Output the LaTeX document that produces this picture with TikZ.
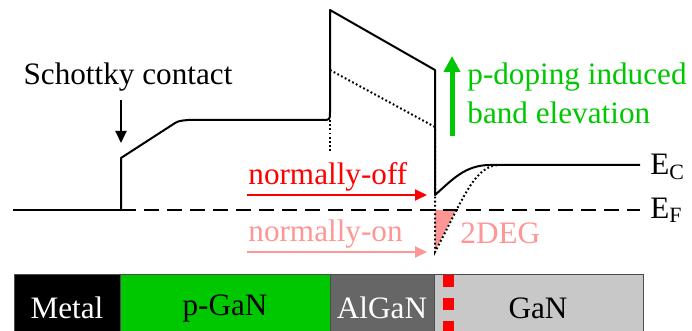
\documentclass[tikz,border=0pt]{standalone}
\usepackage{fontspec}
\setmainfont{Liberation Serif}
\usetikzlibrary{arrows.meta}
\definecolor{pgreen}{RGB}{0,200,0}
\definecolor{offred}{RGB}{255,0,0}
\definecolor{onpink}{RGB}{255,150,150}
\definecolor{algan}{RGB}{102,102,102}
\definecolor{gan}{RGB}{200,200,200}
\tikzset{
  band/.style={line width=1pt, line join=round},
  dotband/.style={line width=1pt, dash pattern=on 0.9pt off 1.2pt},
  fermi/.style={line width=1pt, dash pattern=on 7.5pt off 4pt},
  lbl/.style={font=\fontsize{15.6}{18}\selectfont, inner sep=0pt},
  layer/.style={draw=black!70, line width=0.5pt},
  tip/.style={-{Triangle[length=6pt,width=5.5pt]}, line width=1pt}
}
\begin{document}
\begin{tikzpicture}[x=0.5pt, y=-0.5pt]
\useasboundingbox (0,0) rectangle (692,331);

% layer stack
\fill[black] (14,275) rectangle (120,331);
\fill[pgreen] (120,275) rectangle (330,331);
\fill[algan] (330,275) rectangle (434,331);
\fill[gan] (434,275) rectangle (643,331);
\draw[layer] (14,331) -- (14,275) -- (643,275) -- (643,331);
\draw[layer] (120,275) -- (120,331) (330,275) -- (330,331) (434,275) -- (434,331);
\draw[offred, line width=5.5pt, dash pattern=on 6pt off 5.5pt] (448,275) -- (448,331);
\node[lbl, text=white] (metal) at (67,308) {Metal};
\node[lbl] (pgan) at (225,308) {p-GaN};
\node[lbl, text=white] (alganlbl) at (382,308) {AlGaN};
\node[lbl] (ganlbl) at (538,308) {GaN};

% 2DEG filling
\fill[onpink] (435,210) -- (456,210) -- (435,251) -- cycle;

% Fermi level
\draw[fermi] (121,210) -- (640,210);
\draw[band] (13,210) -- (121,210);
\node[lbl, anchor=west] (ef) at (650,210) {E\textsubscript{F}};

% conduction band with p-GaN gate
\draw[band] (121,210) -- (121,158) -- (172,125) .. controls (178,121) .. (188,120)
  -- (322,120) .. controls (330,120) .. (330,112) -- (330,10) -- (435,70) -- (435,195)
  .. controls (452,180) and (465,165) .. (490,165) -- (640,165);
\node[lbl, anchor=west] (ec) at (650,167) {E\textsubscript{C}};

% conduction band without p-doping
\draw[dotband] (330,120) -- (330,152);
\draw[dotband] (330,70) -- (435,127) -- (435,252)
  .. controls (465,195) and (475,165) .. (500,165);

% annotations
\node[lbl] (schottky) at (128,77) {Schottky contact};
\coordinate (schottkytip) at (121,143);
\draw[tip] (121,100) -- (schottkytip);

\node[lbl, text=offred, anchor=west] (off) at (248,177) {normally-off};
\coordinate (offtip) at (427,195);
\draw[tip, offred] (247,195) -- (offtip);

\node[lbl, text=onpink, anchor=west] (on) at (248,234) {normally-on};
\coordinate (ontip) at (427,252);
\draw[tip, onpink] (247,252) -- (ontip);

\node[lbl, text=onpink, anchor=west] (deg) at (460,233) {2DEG};

\coordinate (greenbase) at (452,136);
\draw[pgreen, line width=2.5pt, -{Triangle[length=8pt,width=8pt]}] (greenbase) -- (452,56);
\node[lbl, text=pgreen, anchor=west] (pdop) at (467,77) {p-doping induced};
\node[lbl, text=pgreen, anchor=west] (elev) at (467,113) {band elevation};
\end{tikzpicture}
\end{document}
